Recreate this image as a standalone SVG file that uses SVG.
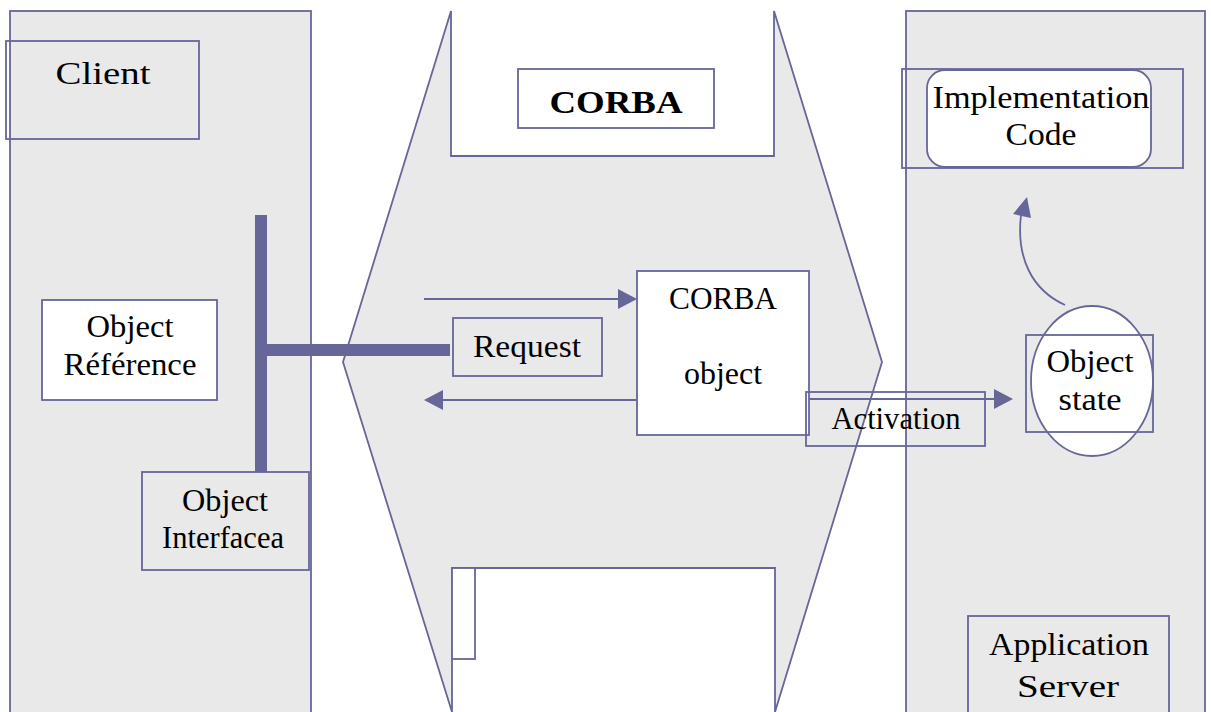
<svg xmlns="http://www.w3.org/2000/svg" width="1211" height="712" viewBox="0 0 1211 712">
  <style>
    .panel { fill: #e9e9e9; stroke: #666699; stroke-width: 1.8; }
    .box { fill: none; stroke: #666699; stroke-width: 1.8; }
    .wbox { fill: #ffffff; stroke: #666699; stroke-width: 1.8; }
    .line { fill: none; stroke: #666699; stroke-width: 1.8; }
    .bar { fill: #666699; stroke: none; }
    .head { fill: #666699; stroke: none; }
    text { font-family: "Liberation Serif", "DejaVu Serif", serif; font-size: 32px; fill: #000000; text-anchor: middle; }
    .bold { font-weight: bold; }
  </style>
  <rect x="0" y="0" width="1211" height="712" fill="#ffffff"/>

  <!-- client side panel -->
  <g id="client-panel">
    <rect class="panel" x="10" y="11" width="301" height="710"/>
  </g>

  <!-- ORB hexagon with white notches top and bottom -->
  <g id="corba-bus">
    <polygon class="panel" points="451,11 451,156 774,156 774,11 882,362 775,712 775,568 452,568 452,712 343,362"/>
    <rect class="wbox" x="452" y="568" width="23" height="91"/>
  </g>

  <!-- server side panel -->
  <g id="server-panel">
    <rect class="panel" x="906" y="11" width="299" height="710"/>
  </g>

  <g id="client-label">
    <rect class="box" x="6" y="41" width="193" height="98"/>
    <text x="103" y="84" font-size="37" textLength="95" lengthAdjust="spacingAndGlyphs">Client</text>
  </g>

  <g id="corba-label">
    <rect class="wbox" x="518" y="69" width="196" height="59"/>
    <text class="bold" x="616" y="113" font-size="36" textLength="133" lengthAdjust="spacingAndGlyphs">CORBA</text>
  </g>

  <g id="object-reference">
    <rect class="wbox" x="42" y="300" width="175" height="100"/>
    <text x="130" y="337" textLength="87" lengthAdjust="spacingAndGlyphs">Object</text>
    <text x="130" y="375" textLength="133" lengthAdjust="spacingAndGlyphs">Référence</text>
  </g>

  <g id="object-interface">
    <rect class="box" x="142" y="472" width="167" height="98"/>
    <text x="225" y="511" textLength="86" lengthAdjust="spacingAndGlyphs">Object</text>
    <text x="223" y="548" textLength="122" lengthAdjust="spacingAndGlyphs">Interfacea</text>
  </g>

  <g id="request">
    <rect class="box" x="453" y="318" width="149" height="58"/>
    <text x="527" y="357" textLength="108" lengthAdjust="spacingAndGlyphs">Request</text>
  </g>

  <g id="corba-object">
    <rect class="wbox" x="637" y="271" width="172" height="164"/>
    <text x="723" y="309" textLength="108" lengthAdjust="spacingAndGlyphs">CORBA</text>
    <text x="723" y="384" textLength="78" lengthAdjust="spacingAndGlyphs">object</text>
  </g>

  <g id="implementation-code">
    <rect class="wbox" x="927" y="70" width="224" height="97" rx="18" ry="18"/>
    <rect class="box" x="902" y="69" width="281" height="99"/>
    <text x="1041" y="108" textLength="217" lengthAdjust="spacingAndGlyphs">Implementation</text>
    <text x="1041" y="145" textLength="71" lengthAdjust="spacingAndGlyphs">Code</text>
  </g>

  <g id="object-state">
    <ellipse class="wbox" cx="1092" cy="381" rx="61" ry="75"/>
    <rect class="box" x="1026" y="335" width="127" height="97"/>
    <text x="1090" y="372" textLength="87" lengthAdjust="spacingAndGlyphs">Object</text>
    <text x="1090" y="410" textLength="63" lengthAdjust="spacingAndGlyphs">state</text>
  </g>

  <g id="activation">
    <rect class="box" x="806" y="392" width="179" height="54"/>
    <text x="896" y="429" textLength="129" lengthAdjust="spacingAndGlyphs">Activation</text>
  </g>

  <g id="application-server">
    <rect class="box" x="968" y="616" width="201" height="110"/>
    <text x="1069" y="655" textLength="160" lengthAdjust="spacingAndGlyphs">Application</text>
    <text x="1068" y="697" font-size="35" textLength="102" lengthAdjust="spacingAndGlyphs">Server</text>
  </g>

  <!-- connectors -->
  <g id="connectors">
    <!-- interface stub: T-shaped thick bar -->
    <rect class="bar" x="255" y="215" width="12" height="257"/>
    <rect class="bar" x="267" y="344" width="183" height="12"/>
    <!-- request to the CORBA object -->
    <line class="line" x1="424" y1="299" x2="620" y2="299"/>
    <path class="head" d="M637,299 L618,289 L618,309 Z"/>
    <!-- reply back to the client -->
    <line class="line" x1="637" y1="400" x2="441" y2="400"/>
    <path class="head" d="M424,400 L443,390 L443,410 Z"/>
    <!-- activation of the object state -->
    <line class="line" x1="809" y1="399" x2="996" y2="399"/>
    <path class="head" d="M1013,399 L994,389 L994,409 Z"/>
    <!-- object state back to implementation code -->
    <path class="line" d="M1065,305 C1032,290 1016,258 1021,215"/>
    <path class="head" d="M1027,197 L1013,214 L1031,218 Z"/>
  </g>
</svg>
